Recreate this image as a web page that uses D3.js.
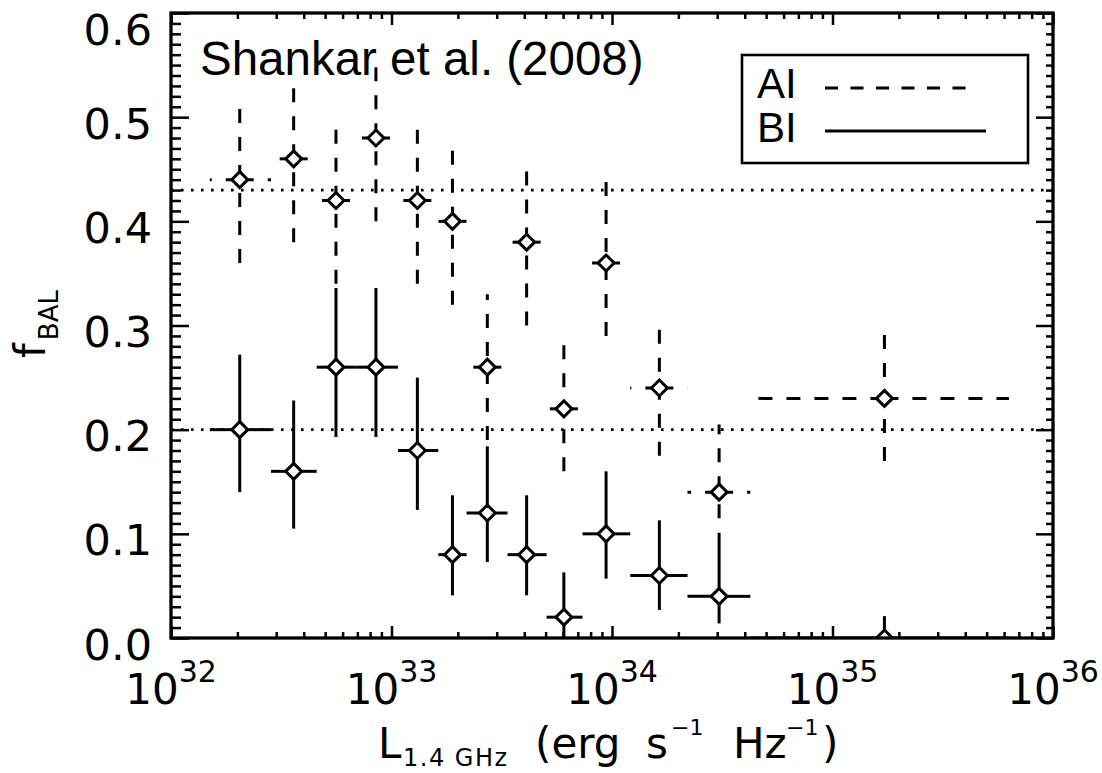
<!DOCTYPE html>
<html>
<head>
<meta charset="utf-8">
<script src="https://cdn.jsdelivr.net/npm/d3@7"></script>
<style>
  body { margin: 0; background: #fff; }
  svg { display: block; }
</style>
</head>
<body>
<div id="chart"></div>
<script>
// bin centres and edges in erg s^-1 Hz^-1
const lum    = [2.05e32, 3.6e32, 5.6e32, 8.5e32, 1.31e33, 1.89e33, 2.72e33, 4.1e33, 6.05e33, 9.4e33, 1.64e34, 3.06e34, 1.72e35];
const lumLo  = [1.50e32, 2.84e32, 4.58e32, 6.96e32, 1.07e33, 1.63e33, 2.19e33, 3.36e33, 5.05e33, 7.35e33, 1.21e34, 2.20e34, 4.24e34];
const lumHi  = [2.84e32, 4.58e32, 6.96e32, 1.07e33, 1.63e33, 2.19e33, 3.36e33, 5.05e33, 7.35e33, 1.21e34, 2.20e34, 4.24e34, 6.31e35];

// AI fractions
const fAI    = [0.44, 0.46, 0.42, 0.48, 0.42, 0.40, 0.26, 0.38, 0.22, 0.36, 0.24, 0.14, 0.23];
const fAIlo  = [0.36, 0.38, 0.34, 0.40, 0.34, 0.32, 0.19, 0.30, 0.16, 0.29, 0.175, 0.115, 0.17];
const fAIhi  = [0.52, 0.54, 0.50, 0.55, 0.50, 0.48, 0.33, 0.46, 0.29, 0.44, 0.305, 0.205, 0.30];

// BI fractions
const fBI    = [0.20, 0.16, 0.26, 0.26, 0.18, 0.08, 0.12, 0.08, 0.02, 0.10, 0.06, 0.04, 0.00];
const fBIlo  = [0.14, 0.105, 0.193, 0.193, 0.123, 0.041, 0.073, 0.041, 0.0, 0.057, 0.027, 0.014, 0.0];
const fBIhi  = [0.272, 0.228, 0.336, 0.336, 0.25, 0.137, 0.184, 0.137, 0.063, 0.16, 0.113, 0.101, 0.021];

const refLevels = [0.43, 0.20];
const xTicks = [1e32, 1e33, 1e34, 1e35, 1e36];
const xTickExp = ["32", "33", "34", "35", "36"];
const yTicks = [0, 0.1, 0.2, 0.3, 0.4, 0.5, 0.6];

(function () {
  const width = 1102, height = 773;
  const pL = 171, pR = 1053, pT = 13, pB = 638;
  const numFont = "'DejaVu Sans', sans-serif";
  const txtFont = "'Liberation Sans', Arial, sans-serif";

  const svg = d3.select("#chart").append("svg")
    .attr("width", width).attr("height", height);

  const x = d3.scaleLog().domain([1e32, 1e36]).range([pL, pR]);
  const y = d3.scaleLinear().domain([0, 0.6]).range([pB, pT]);

  const xMinor = [];
  for (let e = 32; e < 36; e++) for (let k = 2; k <= 9; k++) xMinor.push(k * Math.pow(10, e));
  const yMinor = d3.range(0, 61).filter(i => i % 10 !== 0).map(i => i / 100);

  svg.append("clipPath").attr("id", "plot")
    .append("rect").attr("x", pL).attr("y", pT)
    .attr("width", pR - pL).attr("height", pB - pT);

  const plot = svg.append("g").attr("clip-path", "url(#plot)");

  // dotted reference levels
  plot.selectAll(".ref").data(refLevels).enter().append("line")
    .attr("x1", pL).attr("x2", pR)
    .attr("y1", d => y(d)).attr("y2", d => y(d))
    .attr("stroke", "#000").attr("stroke-width", 2.6)
    .attr("stroke-dasharray", "2.6,7.4");

  function series(vals, lo, hi, dash) {
    const g = plot.append("g").attr("stroke", "#000").attr("stroke-width", 3).attr("fill", "none");
    const pts = vals.map((v, i) => ({ i, v, lo: lo[i], hi: hi[i] }));
    // vertical bars, drawn from low end upward
    g.selectAll(".ev").data(pts).enter().append("line")
      .attr("x1", d => x(lum[d.i])).attr("x2", d => x(lum[d.i]))
      .attr("y1", d => y(d.lo)).attr("y2", d => y(d.hi))
      .attr("stroke-dasharray", dash);
    // horizontal bars, drawn outward from the point
    g.selectAll(".el").data(pts).enter().append("line")
      .attr("x1", d => x(lum[d.i])).attr("x2", d => x(lumLo[d.i]))
      .attr("y1", d => y(d.v)).attr("y2", d => y(d.v))
      .attr("stroke-dasharray", dash);
    g.selectAll(".eh").data(pts).enter().append("line")
      .attr("x1", d => x(lum[d.i])).attr("x2", d => x(lumHi[d.i]))
      .attr("y1", d => y(d.v)).attr("y2", d => y(d.v))
      .attr("stroke-dasharray", dash);
    return pts;
  }

  const ptsAI = series(fAI, fAIlo, fAIhi, "14,14");
  const ptsBI = series(fBI, fBIlo, fBIhi, null);

  const r = 8;
  const diamond = `M0,${-r}L${r},0L0,${r}L${-r},0Z`;
  plot.selectAll(".mk").data(ptsAI.concat(ptsBI)).enter().append("path")
    .attr("d", diamond)
    .attr("transform", d => `translate(${x(lum[d.i])},${y(d.v)})`)
    .attr("fill", "#fff").attr("stroke", "#000").attr("stroke-width", 3);

  // axes: ticks point inward
  function styleAxis(g) {
    g.select(".domain").remove();
    g.selectAll(".tick line").attr("stroke", "#000").attr("stroke-width", 2.5);
  }
  svg.append("g").attr("transform", `translate(0,${pB})`)
    .call(d3.axisBottom(x).tickValues(xTicks).tickSize(-12).tickFormat("")).call(styleAxis);
  svg.append("g").attr("transform", `translate(0,${pB})`)
    .call(d3.axisBottom(x).tickValues(xMinor).tickSize(-6).tickFormat("")).call(styleAxis);
  svg.append("g").attr("transform", `translate(0,${pT})`)
    .call(d3.axisTop(x).tickValues(xTicks).tickSize(-12).tickFormat("")).call(styleAxis);
  svg.append("g").attr("transform", `translate(0,${pT})`)
    .call(d3.axisTop(x).tickValues(xMinor).tickSize(-6).tickFormat("")).call(styleAxis);

  const yAxis = svg.append("g").attr("transform", `translate(${pL},0)`)
    .call(d3.axisLeft(y).tickValues(yTicks).tickSize(-18).tickPadding(19).tickFormat(d3.format(".1f")))
    .call(styleAxis);
  // labels sit a little below their ticks; the top one is pushed inside the frame
  yAxis.selectAll(".tick text")
    .attr("font-family", numFont).attr("font-size", 43).attr("fill", "#000")
    .attr("dy", d => d === 0.6 ? 31 : 21);
  svg.append("g").attr("transform", `translate(${pL},0)`)
    .call(d3.axisLeft(y).tickValues(yMinor).tickSize(-10).tickFormat("")).call(styleAxis);
  svg.append("g").attr("transform", `translate(${pR},0)`)
    .call(d3.axisRight(y).tickValues(yTicks).tickSize(-17).tickFormat("")).call(styleAxis);
  svg.append("g").attr("transform", `translate(${pR},0)`)
    .call(d3.axisRight(y).tickValues(yMinor).tickSize(-7).tickFormat("")).call(styleAxis);

  svg.append("rect")
    .attr("x", pL).attr("y", pT).attr("width", pR - pL).attr("height", pB - pT)
    .attr("fill", "none").attr("stroke", "#000").attr("stroke-width", 3.3);

  // x tick labels 10^n
  const xl = svg.selectAll(".xl").data(xTicks).enter().append("text")
    .attr("x", d => x(d)).attr("y", 704)
    .attr("text-anchor", "middle").attr("font-family", numFont).attr("font-size", 42);
  xl.append("tspan").text("10");
  xl.append("tspan").attr("dy", -22).attr("font-size", 30).text((d, i) => xTickExp[i]);

  // x axis title
  const xt = svg.append("text").attr("x", 378).attr("y", 758)
    .attr("font-family", numFont).attr("font-size", 42);
  xt.append("tspan").text("L");
  xt.append("tspan").attr("x", 403).attr("dy", 8).attr("font-size", 24)
    .attr("letter-spacing", 1.5).text("1.4 GHz");
  xt.append("tspan").attr("x", 535).attr("dy", -8).text("(erg");
  xt.append("tspan").attr("x", 646).text("s");
  xt.append("tspan").attr("x", 671).attr("dy", -23).attr("font-size", 22).text("\u22121");
  xt.append("tspan").attr("x", 733).attr("dy", 23).text("Hz");
  xt.append("tspan").attr("x", 786).attr("dy", -23).attr("font-size", 22).text("\u22121");
  xt.append("tspan").attr("x", 822).attr("dy", 23).text(")");

  // y axis title
  const yt = svg.append("text").attr("transform", "translate(45,358) rotate(-90)")
    .attr("font-family", numFont).attr("font-size", 42);
  yt.append("tspan").text("f");
  yt.append("tspan").attr("dx", 3).attr("dy", 13).attr("font-size", 26).text("BAL");

  // annotation
  svg.append("text").attr("x", 200).attr("y", 75)
    .attr("font-family", txtFont).attr("font-size", 47.5).text("Shankar et al. (2008)");

  // legend
  const leg = svg.append("g");
  leg.append("rect").attr("x", 742).attr("y", 55).attr("width", 286).attr("height", 108)
    .attr("fill", "#fff").attr("stroke", "#000").attr("stroke-width", 2.6);
  const legItems = [
    { name: "AI", dash: "13,12.5", x2: 978 },
    { name: "BI", dash: null, x2: 986 }
  ];
  legItems.forEach((it, i) => {
    leg.append("text").attr("x", 757).attr("y", 98 + i * 44)
      .attr("font-family", txtFont).attr("font-size", 42).text(it.name);
    leg.append("line").attr("x1", 825).attr("x2", it.x2)
      .attr("y1", 88 + i * 43).attr("y2", 88 + i * 43)
      .attr("stroke", "#000").attr("stroke-width", 3)
      .attr("stroke-dasharray", it.dash);
  });
})();
</script>
</body>
</html>
